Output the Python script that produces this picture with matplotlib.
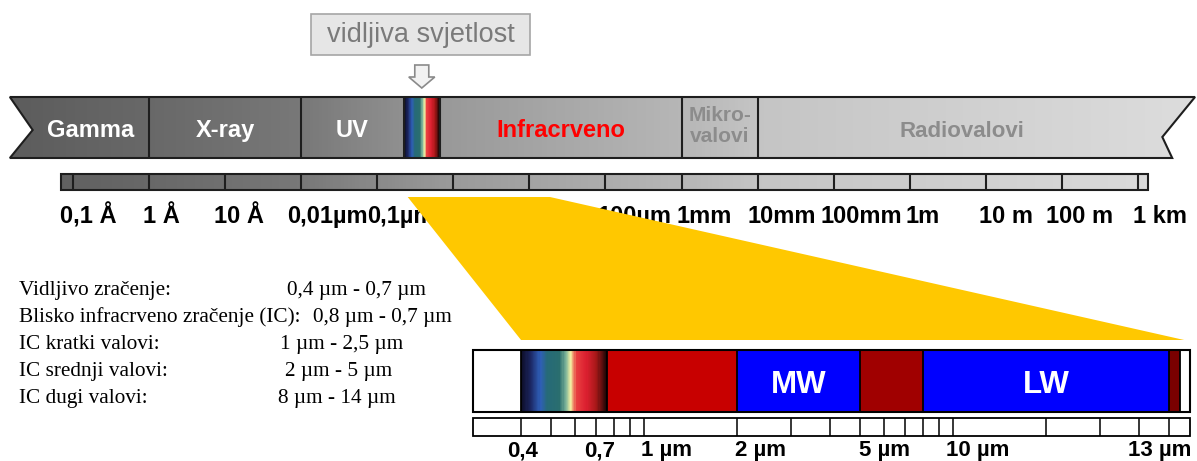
import numpy as np
import matplotlib.pyplot as plt
from matplotlib.colors import LinearSegmentedColormap
from matplotlib.patches import Polygon, Rectangle

# --- main spectrum, x = log10(wavelength / m)
band_names = ["Gamma", "X-ray", "UV", "", "Infracrveno", "Mikro-\nvalovi", "Radiovalovi"]
band_edges = [-11.83, -10.0, -8.0, -6.65, -6.18, -3.0, -2.0, 3.75]
band_text_colors = ["white", "white", "white", "white", "#ff0000", "#8c8c8c", "#8c8c8c"]
band_text_sizes = [17, 17, 17, 17, 17, 15, 16]
band_gray = [0x5c, 0x68, 0x78, 0x90, 0x98, 0xb6, 0xc4, 0xdc]   # shading at the edges

scale_lo, scale_hi = -11.16, 3.13
scale_ticks = list(range(-11, 4))
scale_labels = ["0,1 Å", "1 Å", "10 Å", "0,01µm", "0,1µm", "1µm", "10µm", "100µm",
                "1mm", "10mm", "100mm", "1m", "10 m", "100 m", "1 km"]
scale_label_x = [-11.17, -10.08, -9.15, -8.19, -7.14, -6.15, -5.15, -4.11,
                 -3.07, -2.13, -1.17, -0.06, 0.91, 1.79, 2.93]

# --- infrared detail, x = wavelength in µm
ir_edges = [0.28, 0.4, 0.76, 2, 5, 8, 50, 54.3, 58.5]
ir_colors = ["white", "visible", "#c80000", "#0000ff", "#a00000", "#0000ff", "#7a0000", "white"]
ir_names = ["", "", "", "MW", "", "LW", "", ""]
ir_ticks = [0.4, 0.5, 0.6, 0.7, 0.8, 0.9, 1, 2, 3, 4, 5, 6, 7, 8, 9, 10, 20, 30, 40, 50]
ir_labels = ["0,4", "0,7", "1 µm", "2 µm", "5 µm", "10 µm", "13 µm"]
ir_label_x = [0.405, 0.72, 1.18, 2.39, 6.0, 12.0, 46.8]

# yellow zoom wedge: top edge on main scale (log10 m), bottom edge on IR bar (µm)
wedge_top = [-6.60, -4.73]
wedge_bottom = [0.4, 56]

table_names = ["Vidljivo zračenje:", "Blisko infracrveno zračenje (IC):",
               "IC kratki valovi:", "IC srednji valovi:", "IC dugi valovi:"]
table_values = ["0,4 µm - 0,7 µm", "0,8 µm - 0,7 µm", "1 µm - 2,5 µm",
                "2 µm - 5 µm", "8 µm - 14 µm"]
table_value_x = [287, 313, 280, 285, 278]

vis_cmap = LinearSegmentedColormap.from_list("vis", [
    (0.00, "#0d0d26"), (0.10, "#1b2560"), (0.22, "#2f5fb8"), (0.30, "#266a78"),
    (0.45, "#2a6e6e"), (0.52, "#7fb59a"), (0.58, "#f6f2a2"), (0.64, "#e84040"),
    (0.76, "#dc2030"), (0.88, "#a81818"), (1.00, "#1a0505")])
gray_cmap = LinearSegmentedColormap.from_list("g", ["black", "white"])

SANS = "Liberation Sans"
W, H = 1197, 461
fig = plt.figure(figsize=(W / 100, H / 100), dpi=100)

ax_top = fig.add_axes([0, 0, 1, 1], zorder=1)
ax_bg = fig.add_axes([0, 0, 1, 1], zorder=2)
ax_ir = fig.add_axes([0, 0, 1, 1], zorder=3)
for a in (ax_top, ax_bg, ax_ir):
    a.set_axis_off()
ax_bg.set_xlim(0, W)
ax_bg.set_ylim(H, 0)
ax_top.set_xlim((0 - 73) / 76.07 - 11, (W - 73) / 76.07 - 11)
ax_top.set_ylim(H, 0)
ax_ir.set_xscale("log")
ax_ir.set_xlim(10 ** ((0 - 644) / 309), 10 ** ((W - 644) / 309))
ax_ir.set_ylim(H, 0)

edge = "#1e1e1e"

# ---- main band with gray shading
y0, y1 = 97, 158
x0, x1 = band_edges[0], band_edges[-1]
notch = 0.3
band_poly = Polygon([(x0, y0), (x1, y0), (x1 - 0.43, 137), (x1 - 0.30, y1),
                     (x0, y1), (x0 + notch, 130)], closed=True,
                    facecolor="none", edgecolor=edge, lw=1.5, zorder=3)
ax_top.add_patch(band_poly)
xs = np.linspace(x0, x1, 400)
shade = np.interp(xs, band_edges, band_gray)[None, :] / 255
mesh = ax_top.pcolormesh(xs, [y0, y1], shade[:, :-1], cmap=gray_cmap, vmin=0, vmax=1,
                         shading="flat", zorder=1)
mesh.set_clip_path(band_poly)

# visible strip
vx = np.linspace(band_edges[3], band_edges[4], 60)
ax_top.pcolormesh(vx, [y0, y1], np.linspace(0, 1, 59)[None, :], cmap=vis_cmap,
                  shading="flat", zorder=2)
ax_top.vlines(band_edges[1:-1], y0, y1, color=edge, lw=1.5, zorder=3)

for i, name in enumerate(band_names):
    if not name:
        continue
    left = band_edges[i] + (notch if i == 0 else 0)
    right = band_edges[i + 1] - (0.37 if i == len(band_names) - 1 else 0)
    xc = (left + right) / 2
    if "\n" in name:
        ax_top.text(xc, 126, name, ha="center", va="center", color=band_text_colors[i],
                    fontsize=band_text_sizes[i], fontweight="bold", family=SANS,
                    linespacing=1.15, zorder=4)
    else:
        ax_top.text(xc, 137, name, ha="center", va="baseline", color=band_text_colors[i],
                    fontsize=band_text_sizes[i], fontweight="bold", family=SANS, zorder=4)

# ---- decade scale bar
s0, s1 = 174, 190
sx = np.linspace(scale_lo, scale_hi, 300)
sshade = np.interp(sx, band_edges, band_gray)[None, :] / 255
ax_top.pcolormesh(sx, [s0, s1], sshade[:, :-1], cmap=gray_cmap, vmin=0, vmax=1,
                  shading="flat", zorder=1)
ax_top.add_patch(Rectangle((scale_lo, s0), scale_hi - scale_lo, s1 - s0,
                           facecolor="none", edgecolor=edge, lw=1.5, zorder=3))
ax_top.vlines(scale_ticks, s0, s1, color=edge, lw=1.5, zorder=3)
for lab, x in zip(scale_labels, scale_label_x):
    ax_top.text(x, 223, lab, ha="left", va="baseline", fontsize=17,
                fontweight="bold", family=SANS, color="black")

# ---- yellow wedge (in pixel space of ax_bg)
def to_bg(ax, x, y):
    return ax_bg.transData.inverted().transform(ax.transData.transform((x, y)))

wedge = [to_bg(ax_top, wedge_top[0], 197), to_bg(ax_top, wedge_top[1], 197),
         to_bg(ax_ir, wedge_bottom[1], 340), to_bg(ax_ir, wedge_bottom[0], 340)]
ax_bg.add_patch(Polygon(wedge, closed=True, facecolor="#ffc800", edgecolor="none"))

# ---- "vidljiva svjetlost" callout and arrow
ax_bg.add_patch(Rectangle((311, 14), 219, 41, facecolor="#e6e6e6",
                          edgecolor="#a6a6a6", lw=1.2))
ax_bg.text(420.5, 35, "vidljiva svjetlost", ha="center", va="center", fontsize=19.5,
           family=SANS, color="#7a7a7a")
ax_x = to_bg(ax_top, (band_edges[3] + band_edges[4]) / 2, 0)[0]
arrow = [(ax_x - 7, 65), (ax_x + 7, 65), (ax_x + 7, 77), (ax_x + 13, 77),
         (ax_x, 88), (ax_x - 13, 77), (ax_x - 7, 77)]
ax_bg.add_patch(Polygon(arrow, closed=True, facecolor="#f2f2f2", edgecolor="#8a8a8a", lw=1.2))

# ---- table of IR ranges
for i, (name, val, vx_) in enumerate(zip(table_names, table_values, table_value_x)):
    yb = 295 + 27 * i
    ax_bg.text(19, yb, name, ha="left", va="baseline", fontsize=15.3,
               family="Liberation Serif", color="black")
    ax_bg.text(vx_, yb, val, ha="left", va="baseline", fontsize=15.3,
               family="Liberation Serif", color="black")

# ---- infrared detail bar
c0, c1 = 350, 412
for i, col in enumerate(ir_colors):
    a, b = ir_edges[i], ir_edges[i + 1]
    if col == "visible":
        gx = np.geomspace(a, b, 80)
        ax_ir.pcolormesh(gx, [c0, c1], np.linspace(0, 1, 79)[None, :], cmap=vis_cmap,
                         shading="flat", zorder=1)
    else:
        ax_ir.add_patch(Rectangle((a, c0), b - a, c1 - c0, facecolor=col,
                                  edgecolor="none", zorder=1))
    if ir_names[i]:
        ax_ir.text(np.sqrt(a * b), 393, ir_names[i], ha="center", va="baseline",
                   fontsize=22.5, fontweight="bold", family=SANS, color="white", zorder=4)
ax_ir.vlines(ir_edges[1:-1], c0, c1, color="black", lw=1.3, zorder=2)
ax_ir.add_patch(Rectangle((ir_edges[0], c0), ir_edges[-1] - ir_edges[0], c1 - c0,
                          facecolor="none", edgecolor="black", lw=1.5, zorder=3))

t0, t1 = 418, 436
ax_ir.add_patch(Rectangle((ir_edges[0], t0), ir_edges[-1] - ir_edges[0], t1 - t0,
                          facecolor="white", edgecolor="black", lw=1.3, zorder=1))
ax_ir.vlines(ir_ticks, t0, t1, color="black", lw=1.1, zorder=2)
for lab, x in zip(ir_labels, ir_label_x):
    ax_ir.text(x, 456, lab, ha="center", va="baseline", fontsize=16,
               fontweight="bold", family=SANS, color="black")

fig.savefig("out.png", dpi=100)
